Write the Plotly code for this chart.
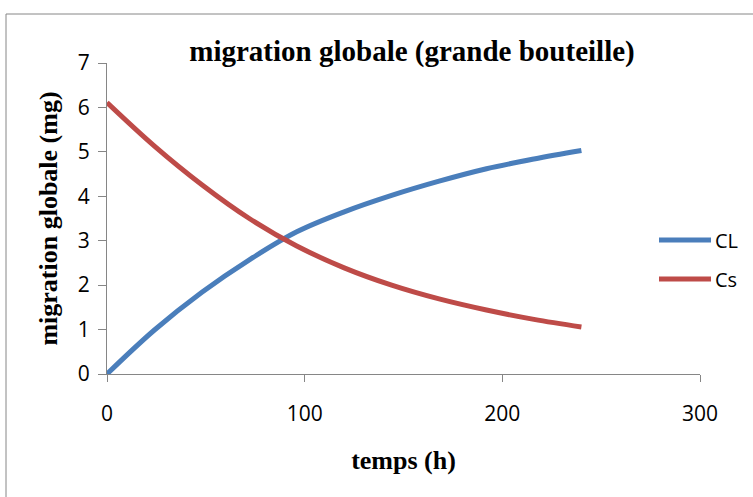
import plotly.graph_objects as go

temps = [0, 24, 48, 72, 96, 120, 144, 168, 192, 216, 240]
cl_values = [0, 0.99, 1.84, 2.57, 3.2, 3.65, 4.02, 4.34, 4.62, 4.84, 5.03]
cs_values = [6.11, 5.13, 4.26, 3.5, 2.88, 2.39, 2.0, 1.69, 1.44, 1.23, 1.06]
series_names = ["CL", "Cs"]
x_ticks = [0, 100, 200, 300]
y_ticks = [0, 1, 2, 3, 4, 5, 6, 7]

blue = "#4A7EBB"
red = "#BE4B48"
axis_col = "#868686"

W, H = 753, 497
L, R, T, B = 107, 700, 63, 374

fig = go.Figure()
fig.add_trace(go.Scatter(x=temps, y=cl_values, mode="lines", name=series_names[0],
                         line=dict(color=blue, width=5, shape="spline"), showlegend=False))
fig.add_trace(go.Scatter(x=temps, y=cs_values, mode="lines", name=series_names[1],
                         line=dict(color=red, width=5, shape="spline"), showlegend=False))

def px(xp):
    return (xp - L) / (R - L)

def py(yp):
    return (B - yp) / (B - T)

# outer chart border
fig.add_shape(type="rect", xref="paper", yref="paper",
              x0=px(6), x1=px(800), y0=py(540), y1=py(14),
              line=dict(color=axis_col, width=1), fillcolor="rgba(0,0,0,0)", layer="below")

# legend (manual)
for i, (nm, col) in enumerate(zip(series_names, [blue, red])):
    yy = 240 + i * 39
    fig.add_shape(type="line", xref="paper", yref="paper",
                  x0=px(659), x1=px(711), y0=py(yy), y1=py(yy),
                  line=dict(color=col, width=5))
    fig.add_annotation(xref="paper", yref="paper", x=px(713), y=py(yy), text=nm,
                       showarrow=False, xanchor="left", yanchor="middle",
                       font=dict(family="Open Sans", size=20, color="black"))

fig.update_layout(
    width=W, height=H,
    margin=dict(l=L, r=W - R, t=T, b=H - B),
    paper_bgcolor="white", plot_bgcolor="white",
    title=dict(text="<b>migration globale (grande bouteille)</b>",
               x=px(412), xref="paper", xanchor="center",
               y=1 - 51 / H, yanchor="middle",
               font=dict(family="Liberation Serif", size=29, color="black")),
    xaxis=dict(range=[0, 300], tickvals=x_ticks, showgrid=False, zeroline=False,
               showline=True, linecolor=axis_col, linewidth=1,
               ticks="outside", ticklen=7, tickcolor=axis_col, ticklabelstandoff=14,
               tickfont=dict(family="Open Sans", size=21, color="black"),
               title=dict(text="<b>temps (h)</b>", standoff=24,
                          font=dict(family="Liberation Serif", size=26, color="black"))),
    yaxis=dict(range=[0, 7], tickvals=y_ticks, showgrid=False, zeroline=False,
               showline=True, linecolor=axis_col, linewidth=1,
               ticks="outside", ticklen=8, tickcolor=axis_col, ticklabelstandoff=4,
               tickfont=dict(family="Open Sans", size=21, color="black"),
               title=dict(text="<b>migration globale (mg)</b>", standoff=12,
                          font=dict(family="Liberation Serif", size=26, color="black"))),
)

fig.write_html("out.html")
